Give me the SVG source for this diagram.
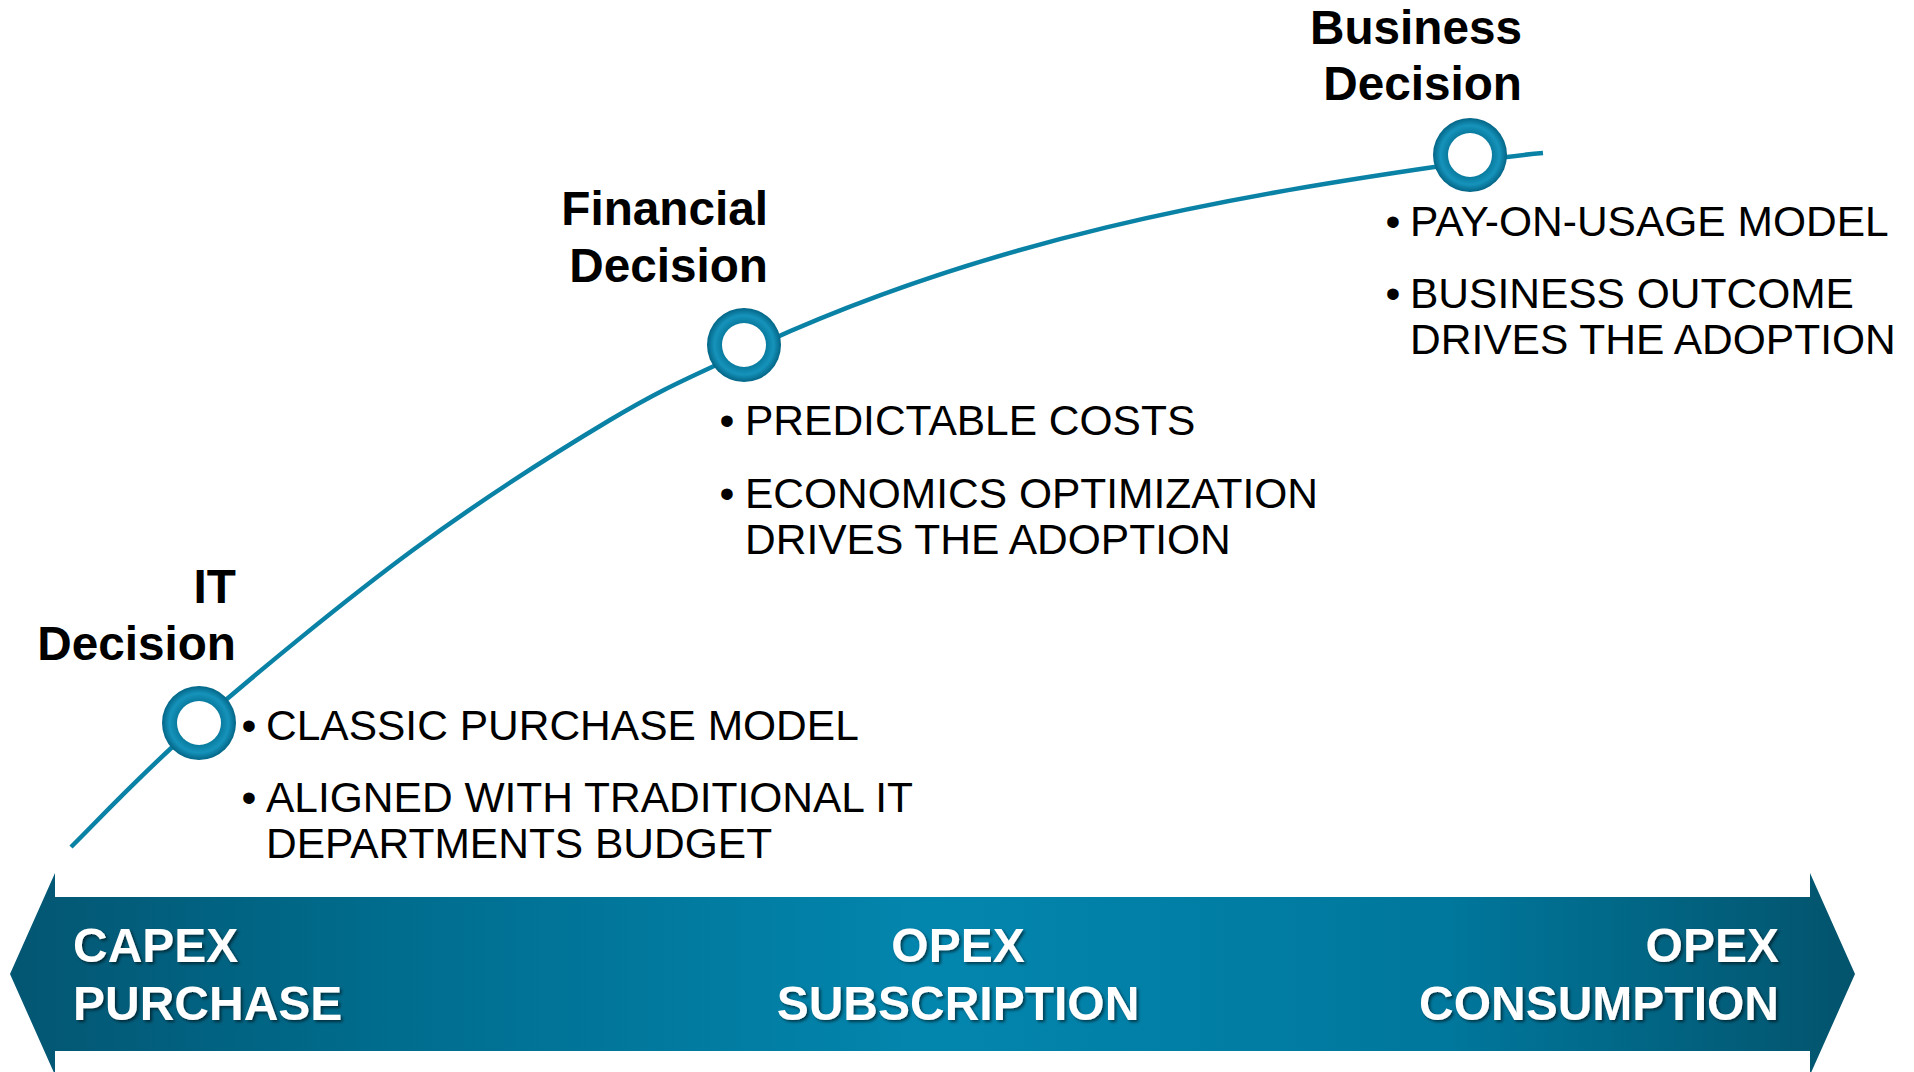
<svg xmlns="http://www.w3.org/2000/svg" width="1914" height="1072" viewBox="0 0 1914 1072">
  <style>
    .title { font-family: "Liberation Sans", Arial, sans-serif; font-weight: bold; font-size: 47.7px; fill: #000; text-anchor: end; }
    .item { font-family: "Liberation Sans", Arial, sans-serif; font-size: 42.5px; fill: #000; }
    .dot { font-family: "Liberation Sans", Arial, sans-serif; font-size: 42.5px; fill: #000; text-anchor: middle; }
    .band { font-family: "Liberation Sans", Arial, sans-serif; font-weight: bold; font-size: 48px; fill: #fff; filter: url(#shadow); }
    .curve { fill: none; stroke: #0a82a6; stroke-width: 4.5; }
  </style>
  <defs>
    <linearGradient id="bandGrad" gradientUnits="userSpaceOnUse" x1="10" y1="0" x2="1855" y2="0">
      <stop offset="0" stop-color="#035672"/>
      <stop offset="0.2" stop-color="#006c8d"/>
      <stop offset="0.5" stop-color="#0386ae"/>
      <stop offset="0.78" stop-color="#00779c"/>
      <stop offset="1" stop-color="#03536c"/>
    </linearGradient>
    <radialGradient id="ringGrad" cx="0.5" cy="0.5" r="0.5">
      <stop offset="0.58" stop-color="#08799d"/>
      <stop offset="0.8" stop-color="#1693bb"/>
      <stop offset="1" stop-color="#036586"/>
    </radialGradient>
    <filter id="shadow" x="-10%" y="-20%" width="120%" height="150%">
      <feDropShadow dx="2" dy="2" stdDeviation="1.5" flood-color="#000" flood-opacity="0.55"/>
    </filter>
  </defs>

  <g id="banner">
    <polygon points="55,873 55,897 1810,897 1810,873 1855,974 1810,1075 1810,1051 55,1051 55,1075 10,974" fill="url(#bandGrad)"/>
    <text class="band" x="73" y="962">CAPEX</text>
    <text class="band" x="73" y="1020">PURCHASE</text>
    <text class="band" x="958" y="962" text-anchor="middle">OPEX</text>
    <text class="band" x="958" y="1020" text-anchor="middle">SUBSCRIPTION</text>
    <text class="band" x="1779" y="962" text-anchor="end">OPEX</text>
    <text class="band" x="1779" y="1020" text-anchor="end">CONSUMPTION</text>
  </g>

  <g id="connectors">
    <path class="curve" d="M71,847 C92.3,826.3 142,772.5 199,723 C256,673.5 344.5,600.5 413,550 C481.5,499.5 554.8,453 610,420 C665.2,387 689,378 744,352 C984,239 1229,196 1469,162 C1499,157.7 1525,154.5 1543,153"/>
  </g>

  <g id="node-it">
    <circle cx="199" cy="723" r="37" fill="url(#ringGrad)"/>
    <circle cx="199" cy="723" r="22" fill="#fff"/>
    <text class="title" x="236" y="603">IT</text>
    <text class="title" x="236" y="660">Decision</text>
    <text class="dot" x="249" y="740">•</text>
    <text class="item" x="266" y="740">CLASSIC PURCHASE MODEL</text>
    <text class="dot" x="249" y="812">•</text>
    <text class="item" x="266" y="812">ALIGNED WITH TRADITIONAL IT</text>
    <text class="item" x="266" y="858">DEPARTMENTS BUDGET</text>
  </g>

  <g id="node-financial">
    <circle cx="744" cy="345" r="37" fill="url(#ringGrad)"/>
    <circle cx="744" cy="345" r="22" fill="#fff"/>
    <text class="title" x="768" y="225">Financial</text>
    <text class="title" x="768" y="282">Decision</text>
    <text class="dot" x="727" y="435">•</text>
    <text class="item" x="745" y="435">PREDICTABLE COSTS</text>
    <text class="dot" x="727" y="508">•</text>
    <text class="item" x="745" y="508">ECONOMICS OPTIMIZATION</text>
    <text class="item" x="745" y="554">DRIVES THE ADOPTION</text>
  </g>

  <g id="node-business">
    <circle cx="1470" cy="155" r="37" fill="url(#ringGrad)"/>
    <circle cx="1470" cy="155" r="22" fill="#fff"/>
    <text class="title" x="1522" y="44">Business</text>
    <text class="title" x="1522" y="100">Decision</text>
    <text class="dot" x="1393" y="236">•</text>
    <text class="item" x="1410" y="236">PAY-ON-USAGE MODEL</text>
    <text class="dot" x="1393" y="308">•</text>
    <text class="item" x="1410" y="308">BUSINESS OUTCOME</text>
    <text class="item" x="1410" y="354">DRIVES THE ADOPTION</text>
  </g>
</svg>
